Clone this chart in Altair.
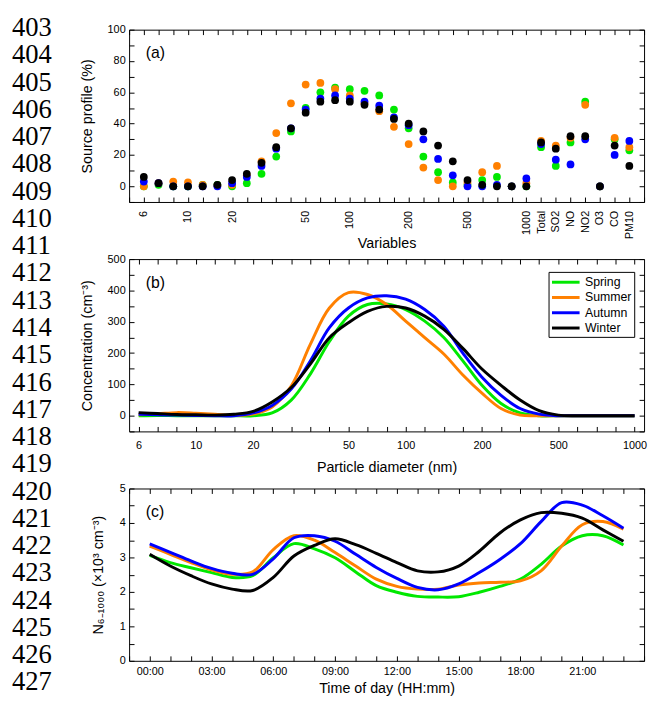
import altair as alt
import pandas as pd

FONT = "Liberation Sans"
seasons = ["Spring", "Summer", "Autumn", "Winter"]
colors = ["#00E800", "#FF8000", "#0000FF", "#000000"]

# ---------- panel (a): source profiles ----------
var_labels = ["6", "", "", "10", "", "", "20", "", "", "", "", "50", "", "", "100",
              "", "", "", "200", "", "", "", "500", "", "", "", "1000",
              "Total", "SO2", "NO", "NO2", "O3", "CO", "PM10"]
prof_spring = [0, 1, 0, 0, 1, 1, 0, 2, 8, 19, 35, 50, 60, 63, 62, 61, 58, 49, 37, 19,
               9, 2.5, 1, 4, 6, 0, 0, 25, 13, 28, 54, 0, 30, 23]
prof_summer = [0, 2, 3, 2.5, 1, 0.5, 1, 7, 16, 34, 53, 65, 66, 62, 58, 53, 48, 38, 27, 12,
               4, 0, 2.5, 9, 13, 0, 2, 29, 26, 31, 52, 0, 31, 25]
prof_autumn = [3, 2, 0, 0, 0, 0, 2, 6, 13, 24, 37, 49, 56, 58, 56, 54, 51.5, 44, 39, 30,
               17.5, 7, 0, 0, 1, 0, 5, 27, 17, 14, 30, 0, 20, 29]
prof_winter = [6, 2, 0, 0, 0, 1, 4, 8, 15, 25, 37, 47, 54, 55, 54, 52, 49, 43, 40, 35,
               26, 16, 4, 1, 0, 0, 0, 28, 24, 32, 32, 0, 26, 13]

# ---------- panel (b): size distributions ----------
size_labels = ["6", "", "", "10", "", "", "20", "", "", "", "", "50", "", "", "100",
               "", "", "", "200", "", "", "", "500", "", "", "", "1000"]
psd_spring = [0, 1, 0, 0, 0, 0, 0, 9, 50, 133, 237, 318, 355, 357, 339, 302, 250, 175,
              97, 39, 9, 0, 0, 0, 0, 0, 0]
psd_summer = [3, 6, 10, 8, 5, 1, 5, 28, 95, 228, 344, 393, 387, 355, 302, 249, 197, 130,
              72, 23, 2, 0, 0, 0, 0, 0, 0]
psd_autumn = [5, 3, 2, 1, 0, 0, 9, 33, 85, 175, 281, 344, 376, 383, 372, 339, 286, 200,
              123, 65, 23, 5, 0, 0, 0, 0, 0]
psd_winter = [10, 7, 4, 3, 2, 5, 14, 44, 90, 165, 249, 297, 333, 349, 344, 318, 276, 215,
              149, 97, 50, 16, 2, 0, 0, 0, 0]

# ---------- panel (c): diurnal cycles ----------
hours = list(range(24))
diu_spring = [3.06, 2.85, 2.70, 2.56, 2.42, 2.47, 2.99, 3.40, 3.25, 2.99, 2.58, 2.18,
              1.99, 1.87, 1.85, 1.86, 1.99, 2.16, 2.37, 2.80, 3.33, 3.63, 3.63, 3.36]
diu_summer = [3.33, 3.09, 2.85, 2.64, 2.51, 2.58, 3.23, 3.63, 3.50, 3.14, 2.75, 2.37,
              2.16, 2.08, 2.08, 2.20, 2.26, 2.28, 2.32, 2.61, 3.33, 3.95, 4.04, 3.82]
diu_autumn = [3.39, 3.15, 2.90, 2.68, 2.54, 2.51, 2.96, 3.57, 3.63, 3.47, 3.09, 2.71,
              2.39, 2.13, 2.06, 2.23, 2.56, 2.94, 3.40, 4.04, 4.59, 4.52, 4.21, 3.85]
diu_winter = [3.09, 2.75, 2.47, 2.23, 2.08, 2.04, 2.42, 3.04, 3.35, 3.54, 3.37, 3.12,
              2.85, 2.61, 2.58, 2.75, 3.18, 3.71, 4.09, 4.30, 4.28, 4.14, 3.80, 3.47]

line_numbers = list(range(403, 428))


def long_df(xs, series):
    rows = []
    for s, vals in zip(seasons, series):
        for x, v in zip(xs, vals):
            rows.append({"x": x, "val": v, "season": s})
    return pd.DataFrame(rows)


df_a = long_df(list(range(len(var_labels))), [prof_spring, prof_summer, prof_autumn, prof_winter])
df_b = long_df(list(range(len(size_labels))), [psd_spring, psd_summer, psd_autumn, psd_winter])
df_c = long_df(hours, [diu_spring, diu_summer, diu_autumn, diu_winter])
df_num = pd.DataFrame({"n": line_numbers})

W, H = 523, 175
TS = 5


def js_array(labels, pad_front=0, pad_back=0):
    items = [""] * pad_front + labels + [""] * pad_back
    return "[" + ",".join("'" + s + "'" for s in items) + "]"


def ax(orient, values, **kw):
    base = dict(orient=orient, values=values, tickSize=TS, offset=-TS, domain=False,
                grid=False, tickColor="black", tickWidth=1)
    if orient in ("top", "right"):
        base.update(labels=False, title=None)
    base.update(kw)
    return alt.Axis(**base)


def panel_label(txt):
    return alt.Chart(pd.DataFrame({"t": [txt]})).mark_text(
        font=FONT, fontSize=16, align="left", baseline="middle", color="black"
    ).encode(x=alt.value(17), y=alt.value(24), text="t:N")


color_nolegend = alt.Color("season:N", scale=alt.Scale(domain=seasons, range=colors), legend=None)

# ---- (a)
xs_a = alt.Scale(domain=[-1, 34], nice=False, zero=False)
ys_a = alt.Scale(domain=[-10, 100], nice=False, zero=False)
xv_a = list(range(-1, 35))
yv_a = list(range(-10, 101, 10))
pts = alt.Chart(df_a).mark_circle(size=62, opacity=1).encode(
    x=alt.X("x:Q", scale=xs_a, axis=ax(
        "bottom", xv_a, labelExpr=js_array(var_labels, 1, 1) + "[datum.value + 1]",
        labelAngle=270, labelAlign="right", labelBaseline="middle", labelPadding=8.5,
        title="Variables", titleY=51, titleBaseline="alphabetic")),
    y=alt.Y("val:Q", scale=ys_a, axis=ax(
        "left", yv_a, labelExpr="datum.value >= 0 && datum.value % 20 == 0 ? datum.label : ''",
        labelPadding=4, title="Source profile (%)", titleX=-43.3, titleBaseline="alphabetic")),
    color=color_nolegend,
)
mir_a = alt.Chart(df_a).mark_point(opacity=0).encode(
    x=alt.X("x:Q", scale=xs_a, axis=ax("top", xv_a)),
    y=alt.Y("val:Q", scale=ys_a, axis=ax("right", yv_a)),
)
nums = alt.Chart(df_num).mark_text(
    font="Liberation Serif", fontSize=27, align="left", baseline="alphabetic", color="black"
).encode(
    y=alt.Y("n:Q", scale=alt.Scale(domain=[403, 427], range=[6.6, 671]), axis=None),
    x=alt.value(-119),
    text=alt.Text("n:Q", format="d"),
)
pa = alt.layer(pts, mir_a, panel_label("(a)"), nums).resolve_scale(
    y="independent").resolve_axis(x="independent", y="independent").properties(width=W, height=H)

# ---- (b)
xs_b = alt.Scale(domain=[-0.5, 26.5], nice=False, zero=False)
ys_b = alt.Scale(domain=[-50, 500], nice=False, zero=False)
xv_b = list(range(0, 27))
yv_b = list(range(-50, 501, 50))
lines_b = alt.Chart(df_b).mark_line(strokeWidth=3, interpolate="catmull-rom").encode(
    x=alt.X("x:Q", scale=xs_b, axis=ax(
        "bottom", xv_b, labelExpr=js_array(size_labels) + "[datum.value]",
        labelPadding=8.5, labelBaseline="top", title="Particle diameter (nm)",
        titleY=46, titleBaseline="alphabetic")),
    y=alt.Y("val:Q", scale=ys_b, axis=ax(
        "left", yv_b, labelExpr="datum.value >= 0 && datum.value % 100 == 0 ? datum.label : ''",
        labelPadding=4, title="Concentration (cm⁻³)", titleX=-43.5, titleBaseline="alphabetic")),
    color=alt.Color("season:N", scale=alt.Scale(domain=seasons, range=colors),
                    legend=alt.Legend(orient="none", legendX=426, legendY=13, title=None,
                                      symbolType="M-1,0H3", symbolStrokeWidth=3, symbolSize=196,
                                      labelFont=FONT, labelFontSize=12.5, labelColor="black",
                                      strokeColor="black", fillColor="white", padding=2,
                                      rowPadding=0.5, labelOffset=18, cornerRadius=0)),
)
mir_b = alt.Chart(df_b).mark_point(opacity=0).encode(
    x=alt.X("x:Q", scale=xs_b, axis=ax("top", xv_b)),
    y=alt.Y("val:Q", scale=ys_b, axis=ax("right", yv_b)),
)
pb = alt.layer(lines_b, mir_b, panel_label("(b)")).resolve_axis(
    x="independent", y="independent").properties(width=W, height=H)

# ---- (c)
xs_c = alt.Scale(domain=[-1, 24], nice=False, zero=False)
ys_c = alt.Scale(domain=[0, 5], nice=False, zero=False)
xv_c = list(range(-1, 25))
yv_c = [i * 0.5 for i in range(11)]
lines_c = alt.Chart(df_c).mark_line(strokeWidth=3, interpolate="catmull-rom").encode(
    x=alt.X("x:Q", scale=xs_c, axis=ax(
        "bottom", xv_c,
        labelExpr="datum.value >= 0 && datum.value <= 21 && datum.value % 3 == 0 ? "
                  "(datum.value < 10 ? '0' : '') + datum.value + ':00' : ''",
        labelPadding=4.6, labelBaseline="top", title="Time of day (HH:mm)",
        titleY=37, titleBaseline="alphabetic")),
    y=alt.Y("val:Q", scale=ys_c, axis=ax(
        "left", yv_c, labelExpr="datum.value % 1 == 0 ? format(datum.value, 'd') : ''",
        labelPadding=4, title="N₆₋₁₀₀₀ (×10³ cm⁻³)", titleX=-32, titleBaseline="alphabetic")),
    color=color_nolegend,
)
mir_c = alt.Chart(df_c).mark_point(opacity=0).encode(
    x=alt.X("x:Q", scale=xs_c, axis=ax("top", xv_c)),
    y=alt.Y("val:Q", scale=ys_c, axis=ax("right", yv_c)),
)
pc = alt.layer(lines_c, mir_c, panel_label("(c)")).resolve_axis(
    x="independent", y="independent").properties(width=W, height=H)

chart = alt.vconcat(pa, pb, pc, spacing=58, bounds="flush").resolve_scale(
    color="independent").resolve_legend(color="independent").properties(
    padding={"left": 3, "top": 0.6, "right": 0, "bottom": 0}
).configure_view(stroke="black", strokeWidth=1).configure_axis(
    labelFont=FONT, labelFontSize=11, labelColor="black",
    titleFont=FONT, titleFontSize=14.5, titleFontWeight="normal", titleColor="black",
)

chart.save("out.html", embed_options={"renderer": "svg", "actions": False})
